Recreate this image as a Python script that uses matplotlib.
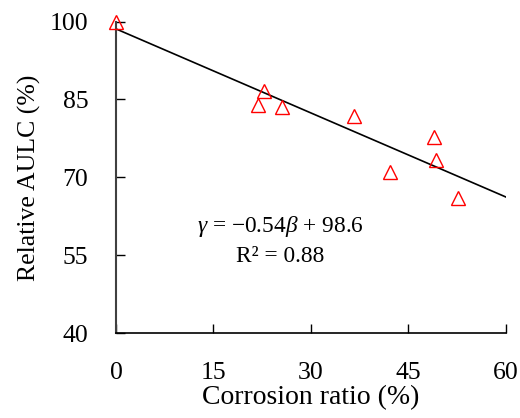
import matplotlib.pyplot as plt

# corrosion ratio (%) vs relative AULC (%)
corrosion = [0.0, 21.8, 22.8, 25.5, 36.6, 42.2, 48.9, 49.3, 52.6]
aulc = [100.0, 83.9, 86.7, 83.5, 81.8, 71.0, 77.7, 73.4, 66.1]

# fitted line y = -0.54x + 98.6
fit_slope = -0.54
fit_intercept = 98.6
fit_x = [0, 60]

xticks = [0, 15, 30, 45, 60]
yticks = [40, 55, 70, 85, 100]

plt.rcParams['font.family'] = 'Liberation Serif'
plt.rcParams['mathtext.fontset'] = 'custom'
plt.rcParams['mathtext.it'] = 'Liberation Serif:italic'
plt.rcParams['mathtext.rm'] = 'Liberation Serif'

fig = plt.figure(figsize=(5.2, 4.18), dpi=100)
ax = fig.add_axes([0.223, 0.2033, 0.75, 0.745])

ax.plot(fit_x, [fit_slope * x + fit_intercept for x in fit_x], color='black', lw=1.2, zorder=2)
ax.plot(corrosion, aulc, linestyle='none', marker='^', markersize=10,
        markerfacecolor='none', markeredgecolor='red', markeredgewidth=1.0,
        clip_on=False, zorder=3)

ax.set_xlim(0, 60)
ax.set_ylim(40, 100)
ax.set_xticks(xticks)
ax.set_yticks(yticks)
ax.tick_params(direction='in', length=6.5, width=1.0, labelsize=18.5)
ax.tick_params(axis='x', pad=21)
ax.tick_params(axis='y', pad=20)

ax.spines['top'].set_visible(False)
ax.spines['right'].set_visible(False)
ax.spines['left'].set_color('#404040')
ax.spines['left'].set_linewidth(1.5)
ax.spines['bottom'].set_linewidth(1.2)

ax.set_xlabel('Corrosion ratio (%)', fontsize=20, labelpad=1)
ax.set_ylabel('Relative AULC (%)', fontsize=18.5, labelpad=6)

ax.text(25.3, 60.6, r'$\gamma$ = −0.54$\beta$ + 98.6', fontsize=16.8, ha='center', va='center')
ax.text(25.3, 54.8, 'R² = 0.88', fontsize=16.8, ha='center', va='center')

fig.savefig('out.png', dpi=100)
